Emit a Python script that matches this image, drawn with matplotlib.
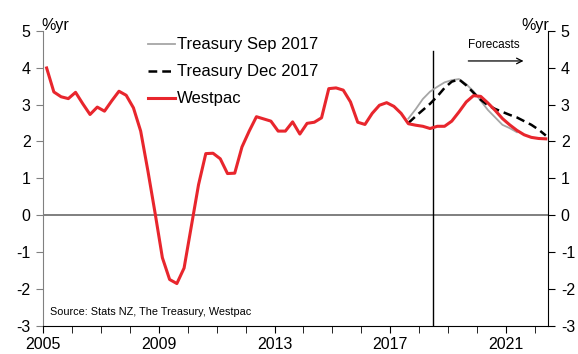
import numpy as np
import matplotlib
matplotlib.use("Agg")
import matplotlib.pyplot as plt
from matplotlib.ticker import MultipleLocator

plt.rcParams['font.family'] = ['Liberation Sans', 'DejaVu Sans']
plt.rcParams['axes.unicode_minus'] = False

# Quarterly data starting 2005 Q1 (annual % change)
start_year = 2005
westpac = [3.99, 3.34, 3.21, 3.16, 3.33, 3.02, 2.73, 2.93, 2.82, 3.10,
           3.36, 3.25, 2.91, 2.28, 1.20, 0.05, -1.15, -1.74, -1.85, -1.43,
           -0.30, 0.83, 1.67, 1.68, 1.53, 1.13, 1.14, 1.85, 2.28, 2.67,
           2.61, 2.55, 2.28, 2.28, 2.53, 2.20, 2.49, 2.52, 2.64, 3.43,
           3.45, 3.39, 3.07, 2.52, 2.46, 2.76, 2.98, 3.05, 2.95, 2.76,
           2.48, 2.44, 2.41, 2.35, 2.41, 2.41, 2.55, 2.80, 3.07, 3.24,
           3.22, 3.04, 2.84, 2.62, 2.45, 2.30, 2.18, 2.11, 2.08, 2.07]
treasury_start_q = 50  # quarter index where treasury forecasts begin
treasury_sep = [2.62, 2.87, 3.15, 3.35, 3.48, 3.60, 3.66, 3.69, 3.55, 3.36,
                3.10, 2.85, 2.65, 2.45, 2.36, 2.25]
treasury_dec = [2.50, 2.68, 2.85, 3.02, 3.22, 3.45, 3.62, 3.68, 3.52, 3.32,
                3.13, 2.98, 2.88, 2.80, 2.72, 2.65, 2.55, 2.45, 2.32, 2.16]
forecast_line_year = 2018.47
xticks_major = [2005, 2009, 2013, 2017, 2021]
yticks = [-3, -2, -1, 0, 1, 2, 3, 4, 5]

def qpos(idx):
    return start_year + (np.asarray(idx) + 0.5) / 4.0

fig = plt.figure(figsize=(5.78, 3.54), dpi=100)
ax = fig.add_axes([0.0744, 0.0791, 0.8742, 0.8342])

x_w = qpos(np.arange(len(westpac)))
x_s = qpos(treasury_start_q + np.arange(len(treasury_sep)))
x_d = qpos(treasury_start_q + np.arange(len(treasury_dec)))

ax.axhline(0, color='#7f7f7f', lw=1.4, zorder=1)
ax.plot([forecast_line_year, forecast_line_year], [-3, 4.45], color='black', lw=1.0, zorder=1)

l1, = ax.plot(x_s, treasury_sep, color='#a6a6a6', lw=1.3, label='Treasury Sep 2017', zorder=2)
l2, = ax.plot(x_d, treasury_dec, color='black', lw=1.8, dashes=(3.5, 2), label='Treasury Dec 2017', zorder=3)
l3, = ax.plot(x_w, westpac, color='#e8262d', lw=2.2, label='Westpac', zorder=4)

ax.set_xlim(2005, 2022.46)
ax.set_ylim(-3, 5)
ax.set_xticks(xticks_major)
ax.xaxis.set_minor_locator(MultipleLocator(1))
ax.set_yticks(yticks)

for s in ['top', 'right']:
    ax.spines[s].set_visible(False)
ax.spines['left'].set_color('#808080')
ax.spines['bottom'].set_color('black')
ax.tick_params(axis='y', direction='out', length=5, color='#808080', labelsize=11.5, pad=4)
ax.tick_params(axis='x', which='both', direction='out', length=5, color='black', labelsize=11.5, pad=3)

ax2 = ax.twinx()
ax2.set_ylim(-3, 5)
ax2.set_yticks(yticks)
for s in ['top', 'left', 'bottom']:
    ax2.spines[s].set_visible(False)
ax2.spines['right'].set_color('black')
ax2.tick_params(axis='y', direction='out', length=5, color='black', labelsize=11.5, pad=4)

fig.text(0.071, 0.928, '%yr', fontsize=11.5, ha='left', va='center')
fig.text(0.950, 0.928, '%yr', fontsize=11.5, ha='right', va='center')

leg = ax.legend(handles=[l1, l2, l3], loc='upper left', bbox_to_anchor=(0.195, 1.0),
                frameon=False, fontsize=12, handlelength=1.6, handletextpad=0.15,
                labelspacing=0.72, borderaxespad=0)

ax.text(2019.7, 4.62, 'Forecasts', fontsize=8.5, ha='left', va='center')
ax.annotate('', xy=(2021.7, 4.18), xytext=(2019.6, 4.18),
            arrowprops=dict(arrowstyle='->', color='black', lw=0.9))

ax.text(2005.25, -2.62, 'Source: Stats NZ, The Treasury, Westpac', fontsize=7.8,
        ha='left', va='center')

fig.savefig('out.png', dpi=100)
